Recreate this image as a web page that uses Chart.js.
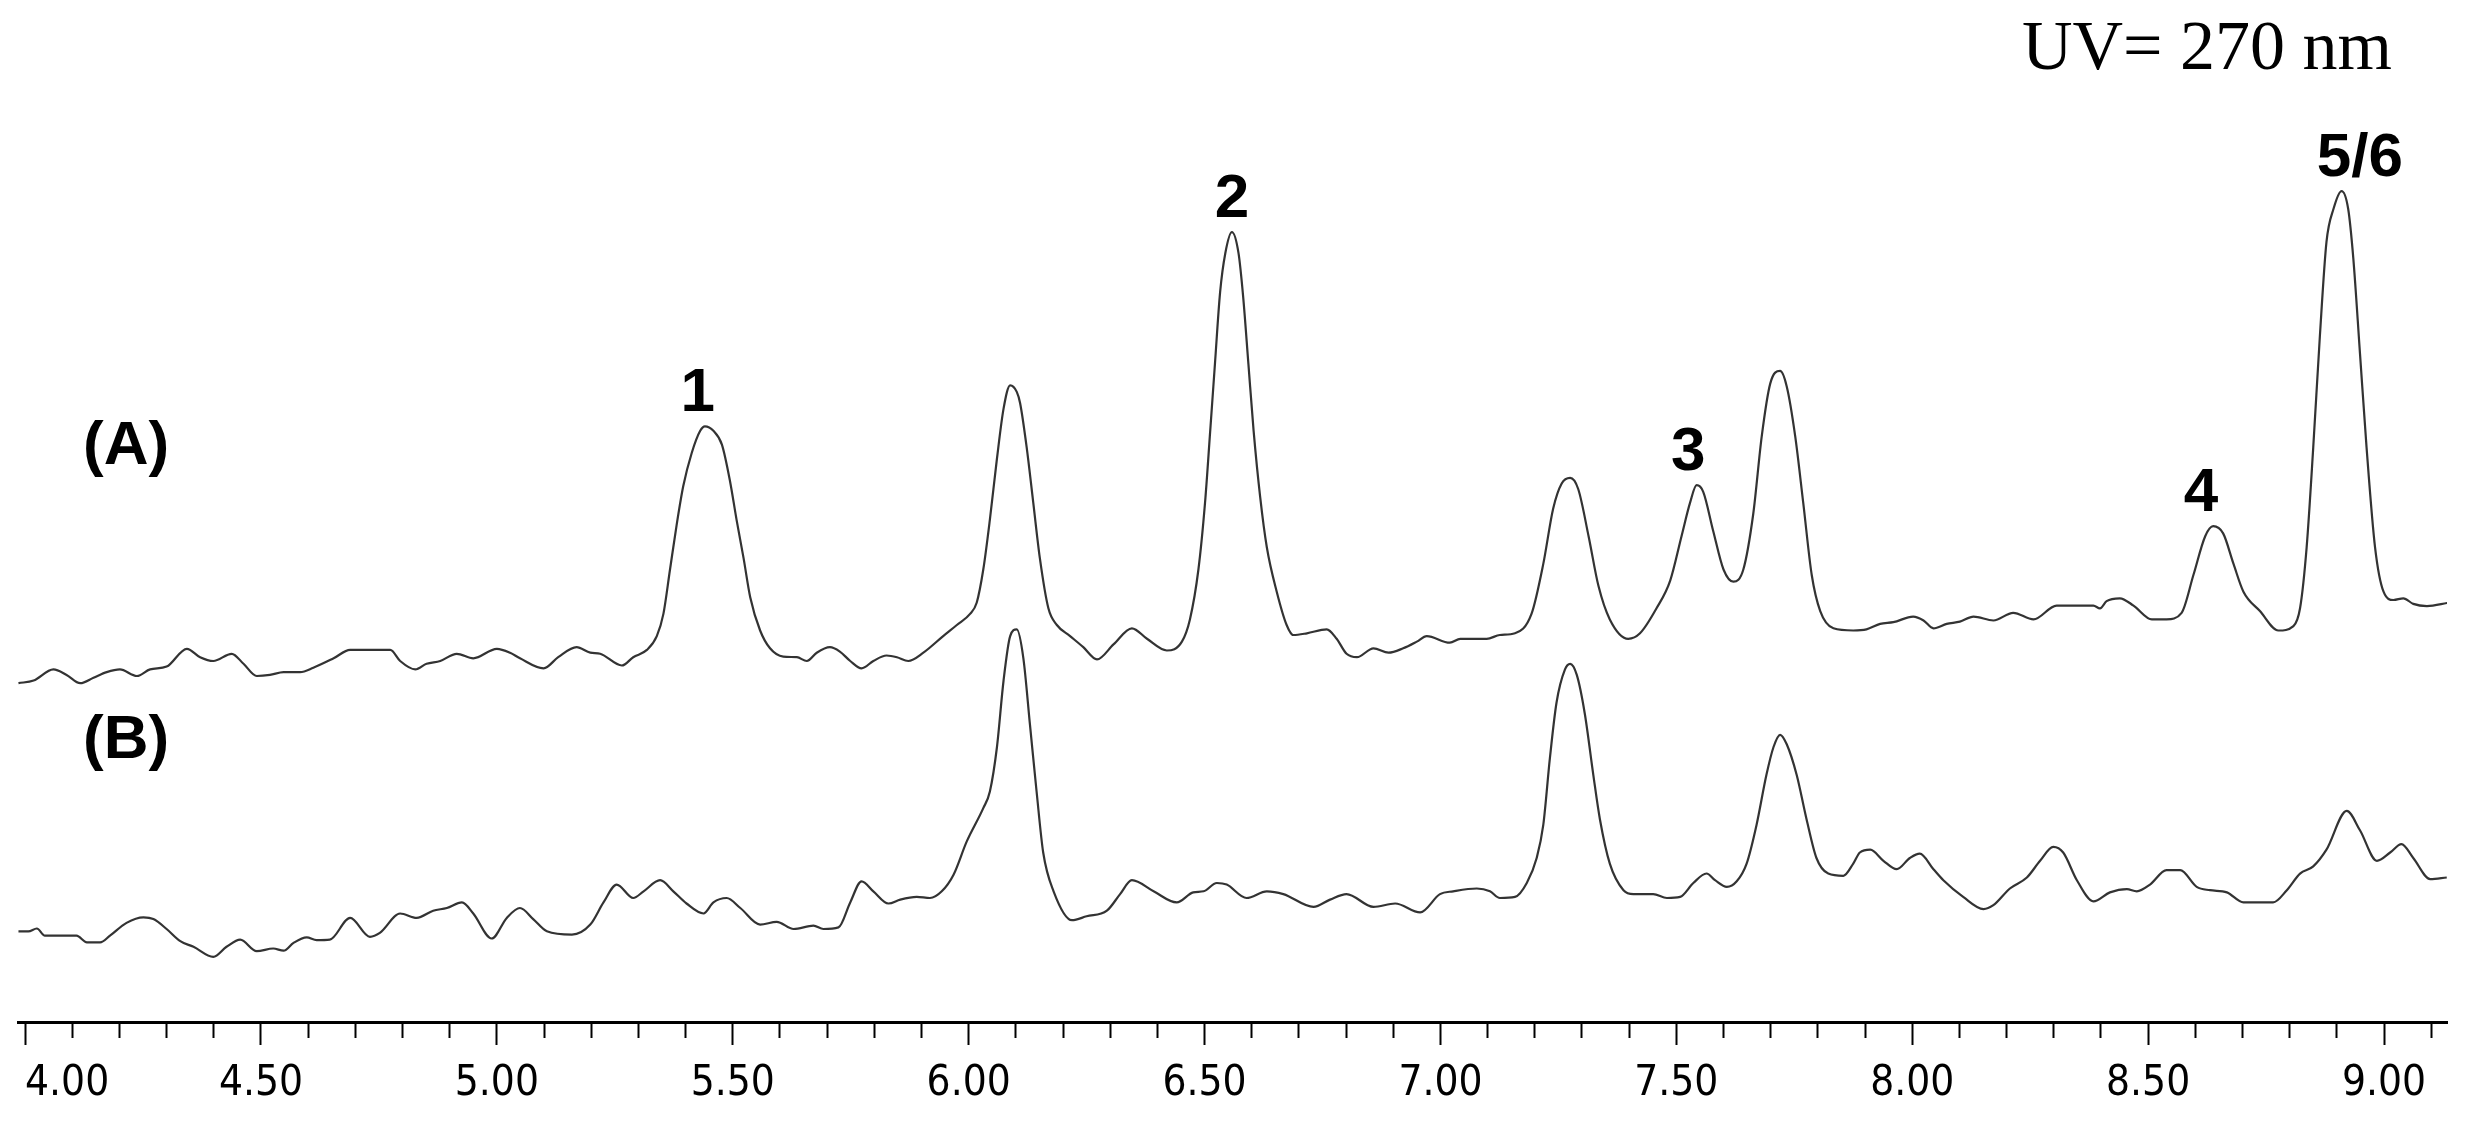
<!DOCTYPE html>
<html>
<head>
<meta charset="utf-8">
<script src="https://cdn.jsdelivr.net/npm/chart.js@4/dist/chart.umd.min.js"></script>
<style>
  html, body { margin: 0; padding: 0; background: #fff; }
  canvas { display: block; }
</style>
</head>
<body>
<canvas id="myChart" width="2471" height="1125"></canvas>
<script>
// retention time (min) and signal (arbitrary units)
var timeA = [3.986, 4.018, 4.060, 4.088, 4.117, 4.145, 4.173, 4.201, 4.237, 4.265, 4.300, 4.343, 4.371, 4.399, 4.438, 4.463, 4.491, 4.519, 4.548, 4.583,
  4.611, 4.654, 4.689, 4.724, 4.774, 4.795, 4.827, 4.851, 4.880, 4.915, 4.950, 5.000, 5.028, 5.049, 5.099, 5.130, 5.169, 5.198, 5.219, 5.265,
  5.289, 5.318, 5.339, 5.353, 5.367, 5.381, 5.395, 5.413, 5.431, 5.441, 5.459, 5.477, 5.494, 5.508, 5.523, 5.537, 5.558, 5.579, 5.607, 5.636,
  5.657, 5.678, 5.706, 5.727, 5.749, 5.773, 5.798, 5.826, 5.848, 5.872, 5.904, 5.946, 5.975, 6.003, 6.017, 6.031, 6.045, 6.060, 6.074, 6.088,
  6.102, 6.109, 6.123, 6.137, 6.151, 6.169, 6.187, 6.215, 6.243, 6.272, 6.307, 6.346, 6.378, 6.420, 6.452, 6.469, 6.487, 6.501, 6.512, 6.522,
  6.533, 6.544, 6.558, 6.572, 6.582, 6.593, 6.604, 6.618, 6.632, 6.653, 6.674, 6.688, 6.717, 6.759, 6.780, 6.801, 6.823, 6.858, 6.890, 6.921,
  6.950, 6.971, 7.020, 7.042, 7.098, 7.126, 7.158, 7.193, 7.218, 7.239, 7.257, 7.275, 7.292, 7.314, 7.335, 7.359, 7.398, 7.423, 7.458, 7.487,
  7.511, 7.529, 7.543, 7.557, 7.578, 7.600, 7.621, 7.642, 7.663, 7.681, 7.699, 7.720, 7.734, 7.752, 7.769, 7.787, 7.805, 7.833, 7.875, 7.903,
  7.932, 7.960, 8.002, 8.024, 8.045, 8.073, 8.101, 8.130, 8.172, 8.214, 8.257, 8.306, 8.384, 8.398, 8.412, 8.440, 8.469, 8.508, 8.539, 8.571,
  8.596, 8.621, 8.638, 8.659, 8.681, 8.702, 8.737, 8.776, 8.808, 8.822, 8.836, 8.850, 8.864, 8.878, 8.893, 8.910, 8.924, 8.935, 8.949, 8.963,
  8.981, 8.999, 9.020, 9.041, 9.062, 9.091, 9.136];
var signalA = [33.88, 34.15, 35.26, 34.71, 33.88, 34.43, 34.99, 35.26, 34.60, 35.26, 35.54, 37.32, 36.48, 36.10, 36.82, 35.82, 34.60, 34.71, 34.99, 34.99,
  35.43, 36.37, 37.21, 37.21, 37.21, 36.10, 35.26, 35.82, 36.10, 36.82, 36.37, 37.32, 36.93, 36.37, 35.37, 36.48, 37.48, 36.93, 36.82, 35.65,
  36.48, 37.21, 38.59, 40.81, 45.25, 49.69, 53.57, 56.90, 59.12, 59.57, 59.12, 57.74, 54.13, 50.24, 46.36, 42.48, 39.15, 37.37, 36.54, 36.48,
  36.10, 36.93, 37.48, 37.04, 36.10, 35.37, 36.10, 36.65, 36.48, 36.10, 36.93, 38.59, 39.70, 40.81, 41.92, 45.25, 50.24, 56.35, 61.34, 63.67,
  63.01, 61.90, 57.46, 51.91, 46.36, 41.37, 39.70, 38.59, 37.48, 36.26, 37.76, 39.37, 38.32, 37.15, 38.04, 40.26, 45.25, 51.91, 59.12, 65.78,
  72.99, 76.88, 78.99, 76.88, 72.44, 65.78, 59.12, 52.46, 47.47, 43.03, 39.70, 38.70, 38.87, 39.26, 38.32, 36.82, 36.48, 37.37, 36.93, 37.37,
  38.04, 38.59, 37.93, 38.32, 38.32, 38.70, 38.87, 40.81, 45.81, 51.35, 53.85, 54.41, 53.30, 48.58, 43.59, 40.26, 38.32, 38.87, 41.37, 44.14,
  48.58, 51.91, 53.68, 53.02, 49.13, 45.25, 44.03, 45.25, 50.80, 58.57, 63.84, 65.11, 63.56, 58.57, 51.91, 44.70, 41.09, 39.37, 39.15, 39.26,
  39.81, 39.98, 40.54, 40.15, 39.37, 39.81, 40.04, 40.54, 40.15, 40.92, 40.26, 41.64, 41.64, 41.37, 42.09, 42.37, 41.64, 40.26, 40.26, 40.92,
  44.70, 48.58, 49.58, 48.86, 45.81, 43.03, 41.09, 39.15, 39.59, 41.37, 47.47, 57.46, 68.55, 77.99, 81.32, 83.09, 81.32, 76.32, 66.89, 57.46,
  47.47, 43.03, 42.20, 42.37, 41.81, 41.59, 41.92];

var timeB = [3.986, 4.007, 4.025, 4.042, 4.074, 4.109, 4.131, 4.159, 4.180, 4.215, 4.251, 4.272, 4.300, 4.329, 4.357, 4.399, 4.427, 4.456, 4.491, 4.526,
  4.548, 4.569, 4.597, 4.618, 4.646, 4.689, 4.731, 4.752, 4.795, 4.830, 4.865, 4.894, 4.926, 4.950, 4.989, 5.021, 5.049, 5.077, 5.106, 5.159,
  5.198, 5.226, 5.254, 5.289, 5.311, 5.346, 5.374, 5.402, 5.438, 5.459, 5.487, 5.516, 5.558, 5.593, 5.629, 5.671, 5.692, 5.724, 5.749, 5.773,
  5.798, 5.830, 5.855, 5.890, 5.918, 5.943, 5.968, 5.996, 6.031, 6.045, 6.060, 6.074, 6.088, 6.102, 6.116, 6.130, 6.144, 6.158, 6.180, 6.219,
  6.250, 6.293, 6.321, 6.346, 6.392, 6.441, 6.476, 6.498, 6.526, 6.547, 6.589, 6.632, 6.667, 6.731, 6.766, 6.801, 6.858, 6.904, 6.957, 6.999,
  7.027, 7.077, 7.105, 7.126, 7.158, 7.183, 7.204, 7.218, 7.232, 7.246, 7.264, 7.275, 7.289, 7.306, 7.324, 7.338, 7.359, 7.388, 7.409, 7.451,
  7.480, 7.508, 7.536, 7.564, 7.582, 7.607, 7.628, 7.649, 7.670, 7.691, 7.706, 7.720, 7.734, 7.755, 7.776, 7.797, 7.822, 7.854, 7.875, 7.889,
  7.911, 7.939, 7.967, 7.995, 8.016, 8.045, 8.066, 8.108, 8.151, 8.172, 8.207, 8.243, 8.271, 8.299, 8.320, 8.349, 8.384, 8.419, 8.455, 8.476,
  8.504, 8.539, 8.568, 8.603, 8.631, 8.667, 8.702, 8.765, 8.794, 8.822, 8.850, 8.878, 8.921, 8.949, 8.985, 9.013, 9.037, 9.062, 9.098, 9.133];
var signalB = [9.07, 9.07, 9.35, 8.63, 8.63, 8.63, 7.96, 7.96, 8.63, 9.91, 10.46, 10.29, 9.30, 8.08, 7.52, 6.52, 7.52, 8.24, 7.08, 7.35,
  7.13, 7.91, 8.46, 8.19, 8.24, 10.41, 8.52, 8.91, 10.85, 10.41, 11.13, 11.40, 11.96, 10.85, 8.35, 10.41, 11.40, 10.29, 9.07, 8.74,
  9.74, 11.96, 13.74, 12.40, 13.07, 14.18, 13.07, 11.85, 10.85, 11.96, 12.40, 11.40, 9.74, 10.02, 9.30, 9.63, 9.30, 9.46, 11.96, 14.07,
  13.07, 11.85, 12.24, 12.51, 12.40, 13.07, 14.73, 18.06, 21.39, 23.05, 27.50, 34.15, 38.59, 39.26, 36.37, 29.71, 23.05, 16.95, 13.07, 10.18,
  10.57, 11.13, 12.79, 14.18, 13.07, 11.96, 12.96, 13.07, 13.90, 13.74, 12.40, 13.07, 12.79, 11.51, 12.24, 12.79, 11.51, 11.85, 10.96, 12.79,
  13.07, 13.35, 13.07, 12.40, 12.51, 13.90, 16.40, 19.71, 26.39, 31.93, 35.26, 35.82, 34.71, 30.83, 24.72, 20.28, 15.84, 13.18, 12.79, 12.79,
  12.40, 12.51, 13.90, 14.85, 14.18, 13.51, 14.07, 15.84, 19.71, 24.72, 27.50, 28.72, 27.77, 24.72, 20.28, 16.40, 14.84, 14.62, 15.84, 16.95,
  17.23, 16.12, 15.28, 16.40, 16.84, 15.28, 14.18, 12.51, 11.29, 11.68, 13.35, 14.45, 16.12, 17.51, 16.95, 14.18, 12.07, 12.96, 13.29, 13.07,
  13.74, 15.18, 15.18, 13.51, 13.18, 12.96, 11.96, 11.96, 13.18, 14.84, 15.56, 17.23, 21.11, 19.17, 16.12, 16.95, 17.79, 16.40, 14.29, 14.45];

var tickLabels = ['4.00', '4.50', '5.00', '5.50', '6.00', '6.50', '7.00', '7.50', '8.00', '8.50', '9.00'];

// peak names and where their labels sit along the time axis
var peakNames = ['1', '2', '3', '4', '5/6'];
var peakTimes = [5.426, 6.558, 7.525, 8.612, 8.949];

var labelFont = "'Liberation Sans Narrow', 'DejaVu Sans Condensed', 'Liberation Sans', sans-serif";

function isMajor(v) {
    return Math.abs(v * 2 - Math.round(v * 2)) < 1e-6;
}

var annotations = {
    id: 'annotations',
    afterDraw: function (chart) {
        var c = chart.ctx;
        var xs = chart.scales.x;
        var ys = chart.scales.y;
        c.save();
        c.fillStyle = '#000';

        // peak numbers above trace (A)
        c.font = "bold 62px 'Liberation Sans', Arial, sans-serif";
        c.textAlign = 'center';
        c.textBaseline = 'alphabetic';
        peakNames.forEach(function (name, i) {
            var t = peakTimes[i];
            var top = -Infinity;
            timeA.forEach(function (ta, j) {
                if (Math.abs(ta - t) <= 0.06 && signalA[j] > top) top = signalA[j];
            });
            c.fillText(name, xs.getPixelForValue(t), ys.getPixelForValue(top) - 15);
        });

        // trace names
        c.textAlign = 'left';
        c.fillText('(A)', 83, 464);
        c.fillText('(B)', 83, 758);

        // detection wavelength
        c.font = "70px 'Liberation Serif', 'Times New Roman', serif";
        c.fillText('UV= 270 nm', 2022, 69);
        c.restore();
    }
};

var ctx = document.getElementById('myChart').getContext('2d');
var chart = new Chart(ctx, {
    type: 'line',
    data: {
        datasets: [{
            label: '(A)',
            data: timeA.map(function (t, i) { return { x: t, y: signalA[i] }; }),
            borderColor: '#333333',
            borderWidth: 2.2,
            pointRadius: 0,
            cubicInterpolationMode: 'monotone'
        }, {
            label: '(B)',
            data: timeB.map(function (t, i) { return { x: t, y: signalB[i] }; }),
            borderColor: '#333333',
            borderWidth: 2.2,
            pointRadius: 0,
            cubicInterpolationMode: 'monotone'
        }]
    },
    options: {
        responsive: false,
        animation: false,
        devicePixelRatio: 1,
        layout: { padding: { left: 18, right: 24, top: 0, bottom: 0 } },
        plugins: {
            legend: { display: false },
            tooltip: { enabled: false }
        },
        scales: {
            x: {
                type: 'linear',
                min: 3.985,
                max: 9.1335,
                afterBuildTicks: function (scale) {
                    var ticks = [];
                    for (var k = 40; k <= 91; k++) ticks.push({ value: k / 10 });
                    scale.ticks = ticks;
                },
                afterFit: function (scale) {
                    scale.height = 103;
                },
                border: { display: true, color: '#000', width: 3 },
                grid: {
                    drawOnChartArea: false,
                    drawTicks: true,
                    tickLength: 23,
                    tickWidth: 2,
                    tickColor: '#000',
                    tickBorderDash: function (c) {
                        return isMajor(c.tick.value) ? [] : [14, 100];
                    }
                },
                ticks: {
                    autoSkip: false,
                    maxRotation: 0,
                    align: 'inner',
                    padding: 14,
                    color: '#000',
                    font: { family: labelFont, size: 42 },
                    callback: function (value) {
                        if (!isMajor(value)) return '';
                        var lbl = tickLabels.find(function (l) { return Math.abs(parseFloat(l) - value) < 1e-6; });
                        return lbl || '';
                    }
                }
            },
            y: {
                display: false,
                min: 0,
                max: 102.2
            }
        }
    },
    plugins: [annotations]
});
</script>
</body>
</html>
